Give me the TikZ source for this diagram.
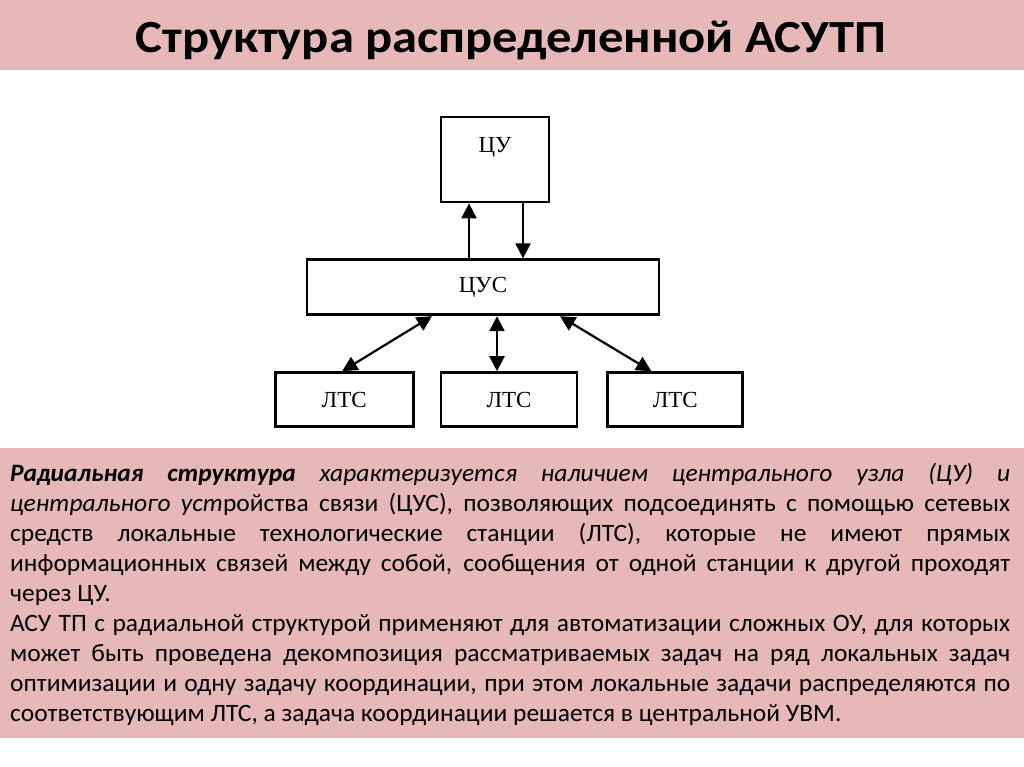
\documentclass[tikz,border=0pt]{standalone}
\usepackage{fontspec}
\setmainfont{Carlito}[FakeStretch=1.02]
\newfontfamily\titlefont{Carlito}[FakeStretch=1.1]
\newfontfamily\diagfont{Liberation Serif}
\usetikzlibrary{arrows.meta,positioning}
\definecolor{slpink}{HTML}{E6B8B7}

\begin{document}
\begin{tikzpicture}[x=1pt,y=-1pt,
        b/.style={draw=black,line width=2.8pt,fill=white,font=\diagfont\fontsize{23}{26}\selectfont,
          inner sep=0pt},
        a/.style={{Triangle[length=15pt,width=15pt]}-{Triangle[length=15pt,width=15pt]},line width=2.2pt},
        au/.style={-{Triangle[length=15pt,width=15pt]},line width=2.2pt}]
        \useasboundingbox (0,0) rectangle (1024,767);
        \fill[white] (0,0) rectangle (1024,767);
        \fill[slpink] (0,0) rectangle (1024,70);
        \node[font=\titlefont\bfseries\fontsize{46}{50}\selectfont] (title) at (511,41) {Структура распределенной АСУТП};
        \node[b,minimum width=108pt,minimum height=85pt] (cu) at (495,159.5) {\raisebox{30pt}{ЦУ}};
        \node[b,minimum width=352pt,minimum height=55pt,below=55pt of cu,xshift=-12pt] (cus) {ЦУС};
        \node[b,minimum width=136pt,minimum height=54pt,below=55pt of cus,xshift=26pt] (l2) {ЛТС};
        \node[b,minimum width=138pt,minimum height=54pt,left=25pt of l2] (l1) {ЛТС};
        \node[b,minimum width=135pt,minimum height=54pt,right=28pt of l2] (l3) {ЛТС};
        \draw[au] ([xshift=-26pt]cu.south |- cus.north) -- ([xshift=-26pt]cu.south);
        \draw[au] ([xshift=28pt]cu.south) -- ([xshift=28pt]cu.south |- cus.north);
        \draw[a] ([xshift=-51pt]cus.south) -- ([xshift=-2pt]l1.north);
        \draw[a] ([xshift=14pt]cus.south) -- ([xshift=14pt]cus.south |- l2.north);
        \draw[a] ([xshift=77pt]cus.south) -- ([xshift=-24pt]l3.north);
        \fill[slpink] (0,448) rectangle (1024,738);
        \node[anchor=north west,text width=1000pt,align=justify,inner sep=0pt,
          font=\fontsize{25}{30}\selectfont] (txt) at (10,463) {%
          \textbf{\textit{Радиальная структура}} \textit{характеризуется наличием центрального узла (ЦУ) и}\linebreak
          \textit{центрального уст}ройства связи (ЦУС), позволяющих подсоединять с помощью сетевых\linebreak
          средств локальные технологические станции (ЛТС), которые не имеют прямых\linebreak
          информационных связей между собой, сообщения от одной станции к другой проходят\linebreak
          через ЦУ.\par
          АСУ ТП с радиальной структурой применяют для автоматизации сложных ОУ, для которых\linebreak
          может быть проведена декомпозиция рассматриваемых задач на ряд локальных задач\linebreak
          оптимизации и одну задачу координации, при этом локальные задачи распределяются по\linebreak
          соответствующим ЛТС, а задача координации решается в центральной УВМ.};
      \end{tikzpicture}
\end{document}
